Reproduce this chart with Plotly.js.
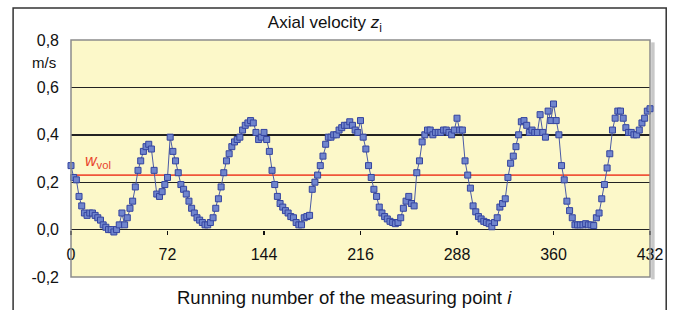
<!DOCTYPE html>
<html>
<head>
<meta charset="utf-8">
<script src="https://cdn.plot.ly/plotly-3.0.1.min.js"></script>
<style>
  html, body { margin: 0; padding: 0; background: #ffffff; }
  #chart { width: 675px; height: 310px; }
</style>
</head>
<body>
<div id="chart"></div>
<script>
// Measuring points (every 2nd running number, 0..432)
const pointStep = 2;
const velocity = [
  0.27,0.22,0.21,0.14,0.10,0.07,0.06,0.07,0.07,0.06,
  0.05,0.04,0.02,0.01,0.00,0.00,-0.01,0.00,0.02,0.07,
  0.02,0.05,0.09,0.12,0.18,0.25,0.29,0.33,0.35,0.36,
  0.34,0.25,0.15,0.14,0.16,0.19,0.22,0.39,0.33,0.29,
  0.24,0.19,0.17,0.15,0.12,0.09,0.07,0.05,0.04,0.03,
  0.02,0.02,0.03,0.05,0.09,0.13,0.18,0.24,0.29,0.32,
  0.35,0.37,0.38,0.39,0.42,0.44,0.45,0.46,0.45,0.41,
  0.38,0.39,0.41,0.38,0.33,0.25,0.19,0.14,0.11,0.095,
  0.08,0.07,0.055,0.05,0.03,0.02,0.02,0.05,0.055,0.06,
  0.17,0.20,0.23,0.27,0.31,0.36,0.39,0.39,0.40,0.40,
  0.42,0.43,0.44,0.44,0.455,0.44,0.42,0.41,0.46,0.39,
  0.34,0.27,0.22,0.17,0.14,0.095,0.07,0.055,0.045,0.035,
  0.03,0.025,0.03,0.05,0.09,0.12,0.14,0.11,0.10,0.24,
  0.29,0.37,0.40,0.42,0.42,0.40,0.41,0.41,0.41,0.42,
  0.42,0.41,0.40,0.42,0.47,0.42,0.42,0.29,0.23,0.175,
  0.10,0.075,0.055,0.045,0.035,0.03,0.025,0.012,0.03,0.05,
  0.095,0.11,0.13,0.22,0.28,0.31,0.35,0.40,0.455,0.46,
  0.44,0.41,0.42,0.41,0.41,0.485,0.41,0.39,0.50,0.46,
  0.53,0.46,0.40,0.27,0.21,0.12,0.08,0.05,0.02,0.02,
  0.02,0.02,0.025,0.02,0.02,0.017,0.05,0.07,0.13,0.19,
  0.26,0.32,0.42,0.47,0.50,0.50,0.47,0.43,0.41,0.41,
  0.40,0.40,0.42,0.45,0.47,0.50,0.51
];
const pointNumber = velocity.map((_, k) => k * pointStep);

// Volumetric mean velocity
const wVol = 0.23;
const wVolRange = [0, 432];

// Axis ticks
const xTickVals = [0, 72, 144, 216, 288, 360, 432];
const yTickVals = [-0.2, 0, 0.2, 0.4, 0.6, 0.8];
const yTickText = ['-0,2', '0,0', '0,2', '0,4', '0,6', '0,8'];

const FONT = 'Liberation Sans, Arial, sans-serif';

const traces = [
  {
    x: wVolRange, y: [wVol, wVol],
    type: 'scatter', mode: 'lines',
    line: { color: '#f0553a', width: 1.6 },
    hoverinfo: 'skip', showlegend: false, cliponaxis: false
  },
  {
    x: pointNumber, y: velocity,
    type: 'scatter', mode: 'lines+markers',
    line: { color: '#4a5aa6', width: 1 },
    marker: { symbol: 'square', size: 6, color: '#7085cd', line: { color: '#34449f', width: 1 } },
    showlegend: false, cliponaxis: false
  }
];

const layout = {
  width: 675, height: 310,
  margin: { l: 71, r: 25, t: 40, b: 33 },
  paper_bgcolor: '#ffffff',
  plot_bgcolor: '#fcf8c9',
  font: { family: FONT, size: 16, color: '#111111' },
  showlegend: false,
  title: {
    text: 'Axial velocity <i>z</i><sub>i</sub>',
    font: { family: FONT, size: 17, color: '#111111' },
    x: 296 / 675, xanchor: 'center', xref: 'paper',
    y: 1 - 22 / 310, yanchor: 'middle'
  },
  xaxis: {
    range: [0, 432],
    tickvals: xTickVals,
    ticktext: xTickVals.map(String),
    anchor: 'free', position: 0.2,
    showgrid: false, zeroline: false, showline: false,
    ticks: 'outside', ticklen: 4, tickwidth: 1.5, tickcolor: '#111111',
    ticklabelstandoff: 6,
    tickfont: { family: FONT, size: 16, color: '#111111' }
  },
  yaxis: {
    range: [-0.2, 0.8],
    tickvals: yTickVals, ticktext: yTickText,
    showgrid: true, gridcolor: '#222222', gridwidth: 1.4,
    zeroline: true, zerolinecolor: '#222222', zerolinewidth: 1.4,
    showline: false, ticks: '',
    ticklabelstandoff: 11,
    tickfont: { family: FONT, size: 16, color: '#111111' }
  },
  shapes: [
    { type: 'rect', xref: 'paper', yref: 'paper', x0: 0, x1: 1, y0: 0, y1: 1,
      line: { color: '#8c8c8c', width: 1.5 }, layer: 'above' },
    { type: 'rect', xref: 'paper', yref: 'paper', x0: 1.002, x1: 1.008, y0: -0.01, y1: 0.99,
      line: { width: 0 }, fillcolor: '#c8c8c8', layer: 'below' },
    { type: 'rect', xref: 'paper', yref: 'paper', x0: -0.100, x1: 1.028, y0: -0.3, y1: 1.135,
      line: { color: '#333333', width: 1.5 }, layer: 'below' }
  ],
  annotations: [
    { text: 'm/s', xref: 'paper', yref: 'paper', x: -0.022, y: 0.904,
      xanchor: 'right', yanchor: 'middle', showarrow: false,
      font: { family: FONT, size: 15, color: '#111111' } },
    { text: '<i>w</i><sub>vol</sub>', xref: 'x', yref: 'y', x: 9, y: wVol,
      xanchor: 'left', yanchor: 'bottom', yshift: 2, showarrow: false,
      font: { family: FONT, size: 16, color: '#e8442c' } },
    { text: 'Running number of the measuring point <i>i</i>', xref: 'paper', yref: 'paper',
      x: (344 - 71) / 579, y: -(297 - 277) / 237, xanchor: 'center', yanchor: 'middle',
      showarrow: false, font: { family: FONT, size: 18.5, color: '#111111' } }
  ]
};

Plotly.newPlot('chart', traces, layout, { staticPlot: true, displayModeBar: false });
</script>
</body>
</html>
